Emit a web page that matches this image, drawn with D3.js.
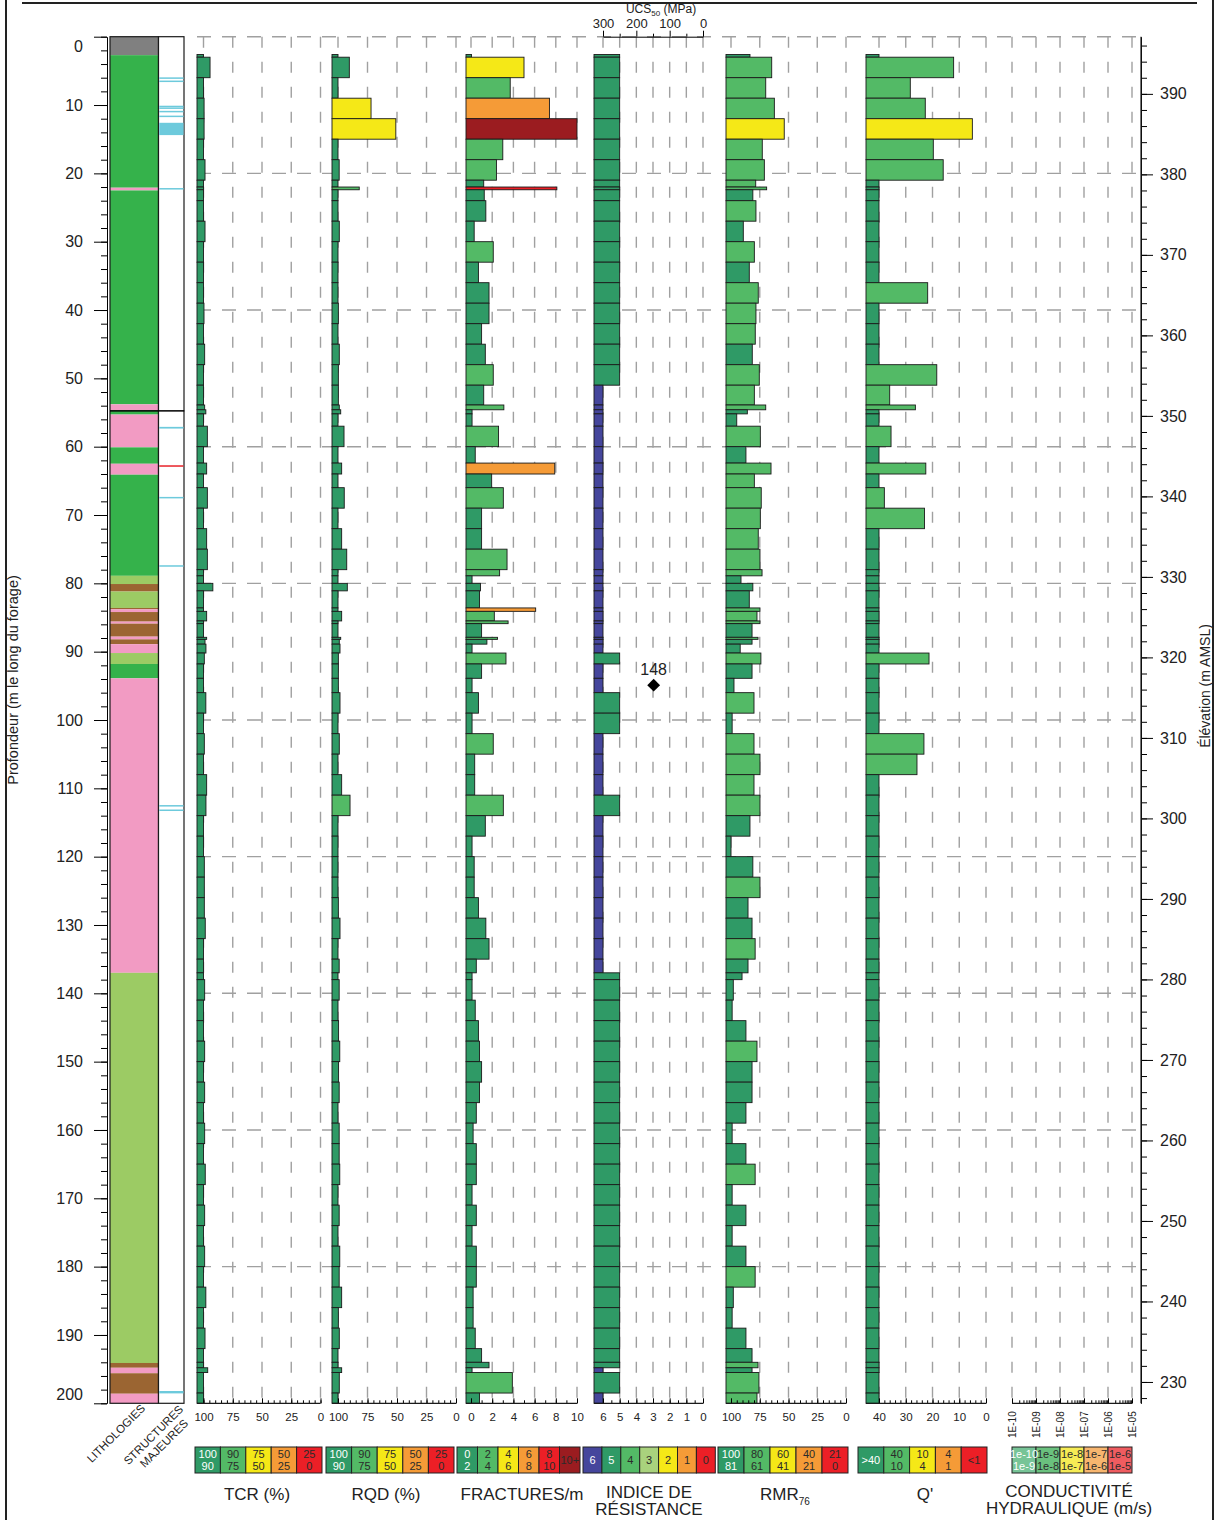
<!DOCTYPE html>
<html>
<head>
<meta charset="utf-8">
<title>Journal de forage</title>
<script src="https://cdnjs.cloudflare.com/ajax/libs/d3/7.8.5/d3.min.js"></script>
<style>
  body { margin: 0; background: #fff; }
  svg text { font-family: "Liberation Sans", Arial, sans-serif; fill: #222; }
</style>
</head>
<body>
<div id="chart"></div>
<script>
// Core runs (m along hole)
const runFrom = [2.6,3,6,9,12,15,18,21,22.0,22.4,24,27,30,33,36,39,42,45,48,51,53.9,54.6,55.2,57,60,62.4,64,66,69,72,75,78,78.9,80,81.1,83.6,84.1,85.5,85.9,87.9,88.2,88.9,90.2,91.8,93.9,96,99,102,105,108,111,114,117,120,123,126,129,132,135,137,138,141,144,147,150,153,156,159,162,165,168,171,174,177,180,183,186,189,192,194,194.8,195.5,198.5];
const runTo = [3,6,9,12,15,18,21,22.0,22.4,24,27,30,33,36,39,42,45,48,51,53.9,54.6,55.2,57,60,62.4,64,66,69,72,75,78,78.9,80,81.1,83.6,84.1,85.5,85.9,87.9,88.2,88.9,90.2,91.8,93.9,96,99,102,105,108,111,114,117,120,123,126,129,132,135,137,138,141,144,147,150,153,156,159,162,165,168,171,174,177,180,183,186,189,192,194,194.8,195.5,198.5,200];

const tcr = [100,94.4,100,99.5,99.5,100,98.7,100,100,100,100,98.7,100,100,100,99.6,100,99,100,100,99,98,100,96.7,100,97.3,100,96.7,100,97.3,96.7,100,100,92,100,100,97.3,100,100,97.3,98.7,97.9,99.3,100,100,98,100,99.3,100,97.3,97.9,100,100,99.3,99.3,99.3,98.5,100,100,100,99,100,100,99,100,99,100,99,100,98.5,100,99,100,99,100,98,100,98.7,100,100,96.4,100,100];
const rqd = [100,90.4,100,72,51,100,99,100,82,100,100,98.9,100,100,100,99.7,100,98.9,99.7,99.7,98.9,97.7,100,94.9,100,96.9,100,94.7,100,96.9,92.6,100,100,92.1,100,100,96.9,100,100,97.7,98.9,98.3,99.7,99.7,99.7,98.3,100,98.9,100,96.9,89.8,100,100,100,100,99.7,98.3,100,99,100,99,100,99.5,98.5,99.5,99,100,99,99,98.5,100,99,100,98.5,99,96.9,99.7,98.9,100,100,96.9,98.9,100];
const fractures = [0.05,5.0,3.7,7.4,10,3.0,2.4,1.2,8.1,1.25,1.4,0.3,2.1,0.7,1.7,1.7,1.0,1.35,2.1,1.2,3.1,0.1,0.1,2.6,0.4,7.9,1.95,3.05,1.0,1.0,3.4,2.7,0.1,0.9,0.8,6.1,2.2,3.5,1.0,2.5,1.5,0.1,3.3,1.0,0.1,0.7,0.1,2.1,0.35,0.35,3.05,1.35,0.1,0.3,0.3,0.7,1.4,1.7,0.5,0.1,0.1,0.4,0.7,0.8,1.0,0.8,0.5,0.2,0.5,0.5,0.1,0.5,0.1,0.5,0.5,0.2,0.2,0.4,1.0,1.7,0.1,3.9,0.8];
const indice = [5,5,5,5,5,5,5,5,5,5,5,5,5,5,5,5,5,5,5,6,6,6,6,6,6,6,6,6,6,6,6,6,6,6,6,6,6,6,6,6,6,6,5,6,6,5,5,6,6,6,5,6,6,6,6,6,6,6,6,5,5,5,5,5,5,5,5,5,5,5,5,5,5,5,5,5,5,5,5,5,6,5,6];
const rmr = [83.5,64.6,69.8,62.3,53.7,72.8,71,78.5,69,81,78.3,89.3,79.7,84.1,76.3,78.3,78.9,81.5,75.4,79.7,69.8,85.8,95,74.5,87,65.2,79.7,73.7,74.5,76.3,74.8,73,91.3,81,84.1,74.8,77.4,74.8,81.7,76.5,81.7,92,74,81.7,97.4,80,99,80,74.8,80,74.8,83.5,100,81,74.8,85.2,81.7,79,85.2,90.4,98,99,87,77.4,81.7,81.7,87,99,87,79,99,87,99,87,79,98,99,87,81.7,76.5,81.7,75.7,77.4];
// Q' (40 = plus de 40)
const qPrime = [40,12.1,28.3,22.7,5.1,19.7,16,40,40,40,40,40,40,40,21.8,40,40,40,18.4,36,26.4,40,40,35.5,40,22.5,40,38,23,40,40,40,40,40,40,40,40,40,40,40,40,40,21.3,40,40,40,40,23.2,25.8,40,40,40,40,40,40,40,40,40,40,40,40,40,40,40,40,40,40,40,40,40,40,40,40,40,40,40,40,40,40,40,40,40,40];

// Point load test
const ucsDepth = [94.9];
const ucsValue = [148];

// Lithologies
const litFrom = [0,2.7,22.1,22.5,53.8,54.7,55.3,60.1,62.5,64.1,78.9,80.1,81.2,83.6,83.8,84.2,85.6,85.9,87.8,88.2,88.9,90.2,91.8,93.9,137,194.1,194.8,195.6,198.6];
const litTo = [2.7,22.1,22.5,53.8,54.7,55.3,60.1,62.5,64.1,78.9,80.1,81.2,83.6,83.8,84.2,85.6,85.9,87.8,88.2,88.9,90.2,91.8,93.9,137,194.1,194.8,195.6,198.6,200];
const litCode = ["MT","V","G","V","G","V","G","V","G","V","VC","S","VC","S","G","S","G","S","G","S","G","VC","V","G","VC","S","G","S","G"];

// Structures majeures
const structFrom = [5.95,6.42,10.1,10.35,10.85,11.55,12.6,22.15,54.65,57.1,62.72,67.35,77.35,112.45,113.1,198.2];
const structTo = [6.05,6.52,10.2,10.45,10.95,11.65,14.4,22.25,54.85,57.35,62.92,67.45,77.45,112.6,113.25,198.55];
const structType = ["j","j","j","j","j","j","j","j","f","j","c","j","j","j","j","j"];

// Axis ticks
const depthTicks = [0,10,20,30,40,50,60,70,80,90,100,110,120,130,140,150,160,170,180,190,200];
const elevTicks = [230,240,250,260,270,280,290,300,310,320,330,340,350,360,370,380,390];
const pctTicks = [100,75,50,25,0];
const fracTicks = [0,2,4,6,8,10];
const indTicks = [6,5,4,3,2,1,0];
const qTicks = [40,30,20,10,0];
const condTicks = [1e-10,1e-9,1e-8,1e-7,1e-6,1e-5];
const ucsTicks = [300,200,100,0];

// Legend classes
const tcrClasses = [["100","90"],["90","75"],["75","50"],["50","25"],["25","0"]];
const rqdClasses = [["100","90"],["90","75"],["75","50"],["50","25"],["25","0"]];
const fracClasses = [["0","2"],["2","4"],["4","6"],["6","8"],["8","10"],["10+"]];
const indClasses = [["6"],["5"],["4"],["3"],["2"],["1"],["0"]];
const rmrClasses = [["100","81"],["80","61"],["60","41"],["40","21"],["21","0"]];
const qClasses = [[">40"],["40","10"],["10","4"],["4","1"],["<1"]];
const condClasses = [["1e-10","1e-9"],["1e-9","1e-8"],["1e-8","1e-7"],["1e-7","1e-6"],["1e-6","1e-5"]];

document.addEventListener('DOMContentLoaded', () => {
    const svg = d3.select("#chart").append("svg")
        .attr("width", 1216).attr("height", 1520);

    const DG = "#2f9a66", LG = "#53ba66", YE = "#f5e817", OR = "#f59b37",
        RD = "#ec1f26", DR = "#9b1c20", BL = "#45469c", PG = "#a9d27d";
    const GRID = "#a0a0a0", INK = "#1a1a1a";
    const FONT = '"Liberation Sans", Arial, sans-serif';

    const y = d3.scaleLinear().domain([0, 200]).range([36.7, 1403.3]);
    const yElev = d3.scaleLinear().domain([397.1, 227.35]).range([36.7, 1403.3]);
    const yBottom = y(200);

    // Columns: bars grow from the base toward the low-quality side
    const cols = [
        { vals: tcr, base: 197, x: d3.scaleLinear().domain([100, 0]).range([203.5, 320.5]),
          color: d3.scaleThreshold().domain([25, 50, 75, 90]).range([RD, OR, YE, LG, DG]),
          ticks: pctTicks, step: 5 },
        { vals: rqd, base: 332, x: d3.scaleLinear().domain([100, 0]).range([338, 456]),
          color: d3.scaleThreshold().domain([25, 50, 75, 90]).range([RD, OR, YE, LG, DG]),
          ticks: pctTicks, step: 5 },
        { vals: fractures, base: 466, x: d3.scaleLinear().domain([0, 10]).range([471, 577]).clamp(true),
          color: d3.scaleThreshold().domain([2, 4, 6, 8, 10]).range([DG, LG, YE, OR, RD, DR]),
          ticks: fracTicks, step: 1 },
        { vals: indice, base: 594, x: d3.scaleLinear().domain([6, 0]).range([603, 703]),
          color: d3.scaleOrdinal().domain([6, 5, 4, 3, 2, 1, 0]).range([BL, DG, LG, PG, YE, OR, RD]),
          ticks: indTicks, step: 0.5 },
        { vals: rmr, base: 726, x: d3.scaleLinear().domain([100, 0]).range([731, 846]),
          color: d3.scaleThreshold().domain([21, 41, 61, 81]).range([RD, OR, YE, LG, DG]),
          ticks: pctTicks, step: 5 },
        { vals: qPrime, base: 866, x: d3.scaleLinear().domain([40, 0]).range([879, 986]).clamp(true),
          color: d3.scaleThreshold().domain([1, 4, 10, 40]).range([RD, OR, YE, LG, DG]),
          ticks: qTicks, step: 2 }
    ];
    const condX = d3.scaleLog().domain([1e-10, 1e-5]).range([1012, 1132]);

    // Horizontal dashed grid every 20 m
    svg.append("g").selectAll("line")
        .data(d3.range(0, 200, 20))
        .join("line")
        .attr("x1", 197).attr("x2", 1138)
        .attr("y1", d => y(d)).attr("y2", d => y(d))
        .attr("stroke", GRID).attr("stroke-width", 1.4)
        .attr("stroke-dasharray", "14,11");

    // Vertical dashed grid at each labelled tick
    const vg = svg.append("g");
    cols.forEach(c => {
        vg.selectAll(null).data(c.ticks).join("line")
            .attr("x1", d => c.x(d)).attr("x2", d => c.x(d))
            .attr("y1", y(0)).attr("y2", yBottom)
            .attr("stroke", GRID).attr("stroke-width", 1.4)
            .attr("stroke-dasharray", "11,14");
    });
    vg.selectAll(null).data(condTicks).join("line")
        .attr("x1", d => condX(d)).attr("x2", d => condX(d))
        .attr("y1", y(0)).attr("y2", yBottom)
        .attr("stroke", GRID).attr("stroke-width", 1.4)
        .attr("stroke-dasharray", "11,14");

    // Bars
    cols.forEach(c => {
        svg.append("g").selectAll("rect")
            .data(c.vals)
            .join("rect")
            .attr("x", c.base)
            .attr("y", (d, i) => y(runFrom[i]))
            .attr("width", d => Math.max(0, c.x(d) - c.base))
            .attr("height", (d, i) => y(runTo[i]) - y(runFrom[i]))
            .attr("fill", d => c.color(d))
            .attr("stroke", INK).attr("stroke-width", 0.9);
    });

    // Bottom axes
    cols.forEach(c => {
        const g = svg.append("g").attr("transform", `translate(0,${yBottom})`);
        const [d0, d1] = c.x.domain();
        const lo = Math.min(d0, d1), hi = Math.max(d0, d1);
        const minor = d3.range(lo, hi + c.step / 2, c.step);
        g.append("g")
            .call(d3.axisBottom(c.x).tickValues(minor).tickSize(-3).tickFormat(""))
            .call(s => s.select(".domain").remove());
        g.append("g")
            .call(d3.axisBottom(c.x).tickValues(c.ticks).tickSize(-5).tickPadding(10).tickFormat(d3.format("d")))
            .call(s => s.select(".domain").remove())
            .attr("font-family", FONT).attr("font-size", 11.5);
        g.append("line").attr("x1", c.base).attr("x2", c.x.range()[1])
            .attr("stroke", INK).attr("stroke-width", 1.2);
    });

    // Hydraulic conductivity axis (log)
    const cg = svg.append("g").attr("transform", `translate(0,${yBottom})`);
    cg.append("g")
        .call(d3.axisBottom(condX).tickValues(condX.ticks()).tickSize(-3).tickFormat(""))
        .call(s => s.select(".domain").remove());
    cg.append("g")
        .call(d3.axisBottom(condX).tickValues(condTicks).tickSize(-5)
            .tickFormat(d => "1E-" + String(Math.round(-Math.log10(d))).padStart(2, "0")))
        .call(s => s.select(".domain").remove())
        .attr("font-family", FONT).attr("font-size", 10)
        .selectAll("text")
        .attr("transform", "rotate(-90)")
        .attr("text-anchor", "end")
        .attr("x", -8).attr("y", 0).attr("dy", "0.35em");
    cg.append("line").attr("x1", 1012).attr("x2", 1132).attr("stroke", INK).attr("stroke-width", 1.2);

    // UCS50 top axis over the strength index column
    const ucs = d3.scaleLinear().domain([300, 0]).range([603, 703]);
    const ug = svg.append("g").attr("transform", `translate(0,${y(0)})`);
    ug.append("g")
        .call(d3.axisTop(ucs).tickValues([250, 150, 50]).tickSize(3).tickFormat(""))
        .call(s => s.select(".domain").remove());
    ug.append("g")
        .call(d3.axisTop(ucs).tickValues(ucsTicks).tickSize(6).tickPadding(3).tickSizeOuter(0))
        .attr("font-family", FONT).attr("font-size", 13);
    const ut = svg.append("text").attr("x", 661).attr("y", 13).attr("text-anchor", "middle")
        .attr("font-size", 12);
    ut.append("tspan").text("UCS");
    ut.append("tspan").attr("font-size", 8).attr("dy", 3).text("50");
    ut.append("tspan").attr("dy", -3).text(" (MPa)");

    // UCS point
    svg.append("g").selectAll("path")
        .data(ucsValue)
        .join("path")
        .attr("d", d3.symbol(d3.symbolSquare, 82)())
        .attr("transform", (d, i) => `translate(${ucs(d)},${y(ucsDepth[i])}) rotate(45)`)
        .attr("fill", "#000");
    svg.append("g").selectAll("text")
        .data(ucsValue)
        .join("text")
        .attr("x", d => ucs(d)).attr("y", (d, i) => y(ucsDepth[i]) - 10)
        .attr("text-anchor", "middle").attr("font-size", 16)
        .text(d => d);

    // Lithology column
    const litColor = { MT: "#808080", V: "#35b24b", G: "#f29bc3", VC: "#9ccb64", S: "#9b6532" };
    svg.append("g").selectAll("rect")
        .data(litCode)
        .join("rect")
        .attr("x", 110).attr("width", 48.5)
        .attr("y", (d, i) => y(litFrom[i]))
        .attr("height", (d, i) => y(litTo[i]) - y(litFrom[i]))
        .attr("fill", d => litColor[d]);
    svg.append("rect").attr("x", 110).attr("y", y(0)).attr("width", 48.5).attr("height", yBottom - y(0))
        .attr("fill", "none").attr("stroke", INK).attr("stroke-width", 1.2);

    // Structures column
    svg.append("rect").attr("x", 158.5).attr("y", y(0)).attr("width", 25.5).attr("height", yBottom - y(0))
        .attr("fill", "#fff").attr("stroke", INK).attr("stroke-width", 1.2);
    const structColor = { j: "#6dcadc", f: "#000", c: "#e8242a" };
    svg.append("g").selectAll("rect")
        .data(structType)
        .join("rect")
        .attr("x", d => d === "f" ? 110 : 159.2)
        .attr("width", d => d === "f" ? 74.3 : 24.3)
        .attr("y", (d, i) => y(structFrom[i]))
        .attr("height", (d, i) => Math.max(1.5, y(structTo[i]) - y(structFrom[i])))
        .attr("fill", d => structColor[d]);

    // Depth axis (left)
    const la = svg.append("g").attr("transform", "translate(107,0)");
    la.append("g")
        .call(d3.axisLeft(y).tickValues(d3.range(0, 201, 2)).tickSize(6).tickFormat("").tickSizeOuter(0))
        .call(s => s.select(".domain").remove());
    la.append("g")
        .call(d3.axisLeft(y).tickValues(depthTicks).tickSize(13).tickPadding(11).tickSizeOuter(0))
        .attr("font-family", FONT).attr("font-size", 16)
        .call(s => s.selectAll(".tick text").filter(d => d === 0).attr("y", 10))
        .call(s => s.selectAll(".tick text").filter(d => d === 200).attr("y", -9));
    svg.append("text")
        .attr("transform", "translate(18,680) rotate(-90)")
        .attr("text-anchor", "middle").attr("font-size", 14.5)
        .text("Profondeur (m le long du forage)");

    // Elevation axis (right)
    const ra = svg.append("g").attr("transform", "translate(1141,0)");
    ra.append("g")
        .call(d3.axisRight(yElev).tickValues(d3.range(228, 397, 2)).tickSize(6).tickFormat("").tickSizeOuter(0))
        .call(s => s.select(".domain").remove());
    ra.append("g")
        .call(d3.axisRight(yElev).tickValues(elevTicks).tickSize(12).tickPadding(7).tickSizeOuter(0))
        .attr("font-family", FONT).attr("font-size", 16);
    ra.append("line").attr("y1", y(0)).attr("y2", yBottom).attr("stroke", INK).attr("stroke-width", 1.2);
    svg.append("text")
        .attr("transform", "translate(1210,686) rotate(-90)")
        .attr("text-anchor", "middle").attr("font-size", 14)
        .text("Élévation (m AMSL)");

    // Legends under each column
    function legend(x0, w, classes, fills, inks) {
        const g = svg.append("g");
        g.selectAll("rect").data(classes).join("rect")
            .attr("x", (d, i) => x0 + i * w).attr("y", 1447)
            .attr("width", w).attr("height", 26)
            .attr("fill", (d, i) => fills[i])
            .attr("stroke", "#222").attr("stroke-width", 1);
        g.selectAll("text").data(classes).join("text")
            .attr("text-anchor", "middle").attr("font-size", 11)
            .style("fill", (d, i) => inks[i])
            .each(function (d, i) {
                const t = d3.select(this);
                const cx = x0 + i * w + w / 2;
                if (d.length === 1) {
                    t.attr("x", cx).attr("y", 1464).text(d[0]);
                } else {
                    t.append("tspan").attr("x", cx).attr("y", 1458).text(d[0]);
                    t.append("tspan").attr("x", cx).attr("y", 1470).text(d[1]);
                }
            });
    }
    const W = "#fff", K = "#2b2b2b";
    legend(195, 25.4, tcrClasses, [DG, LG, YE, OR, RD], [W, K, K, K, K]);
    legend(326, 25.6, rqdClasses, [DG, LG, YE, OR, RD], [W, K, K, K, K]);
    legend(457, 20.5, fracClasses, [DG, LG, YE, OR, RD, DR], [W, K, K, K, K, K]);
    legend(583, 18.9, indClasses, [BL, DG, LG, PG, YE, OR, RD], [W, W, K, K, K, K, K]);
    legend(718, 26, rmrClasses, [DG, LG, YE, OR, RD], [W, K, K, K, K]);
    legend(858, 25.8, qClasses, [DG, LG, YE, OR, RD], [W, K, K, K, K]);
    legend(1012, 24, condClasses, ["#77c497", "#6ac17e", "#f6ec55", "#f8b66f", "#ef5c60"], [W, K, K, K, K]);

    // Column titles
    const titles = [
        { x: 257, y: 1500, lines: ["TCR (%)"] },
        { x: 386, y: 1500, lines: ["RQD (%)"] },
        { x: 522, y: 1500, lines: ["FRACTURES/m"] },
        { x: 649, y: 1498, lines: ["INDICE DE", "RÉSISTANCE"] },
        { x: 925, y: 1500, lines: ["Q'"] },
        { x: 1069, y: 1497, lines: ["CONDUCTIVITÉ", "HYDRAULIQUE (m/s)"] }
    ];
    titles.forEach(t => {
        t.lines.forEach((s, i) => {
            svg.append("text").attr("x", t.x).attr("y", t.y + i * 17)
                .attr("text-anchor", "middle").attr("font-size", 17).text(s);
        });
    });
    const rmrT = svg.append("text").attr("x", 785).attr("y", 1500).attr("text-anchor", "middle").attr("font-size", 17);
    rmrT.append("tspan").text("RMR");
    rmrT.append("tspan").attr("font-size", 10).attr("dy", 5).text("76");

    svg.append("text").attr("transform", "translate(146,1409) rotate(-45)")
        .attr("text-anchor", "end").attr("font-size", 11.5).text("LITHOLOGIES");
    svg.append("text").attr("transform", "translate(184,1410) rotate(-45)")
        .attr("text-anchor", "end").attr("font-size", 11.5).text("STRUCTURES");
    svg.append("text").attr("transform", "translate(189,1424) rotate(-45)")
        .attr("text-anchor", "end").attr("font-size", 11.5).text("MAJEURES");

    // Page frame
    svg.append("line").attr("x1", 6).attr("x2", 6).attr("y1", 0).attr("y2", 1520)
        .attr("stroke", "#222").attr("stroke-width", 2);
    svg.append("line").attr("x1", 1213).attr("x2", 1213).attr("y1", 0).attr("y2", 1520)
        .attr("stroke", "#222").attr("stroke-width", 2);
    svg.append("line").attr("x1", 22).attr("x2", 1197).attr("y1", 3).attr("y2", 3)
        .attr("stroke", "#222").attr("stroke-width", 2);
});
</script>
</body>
</html>
